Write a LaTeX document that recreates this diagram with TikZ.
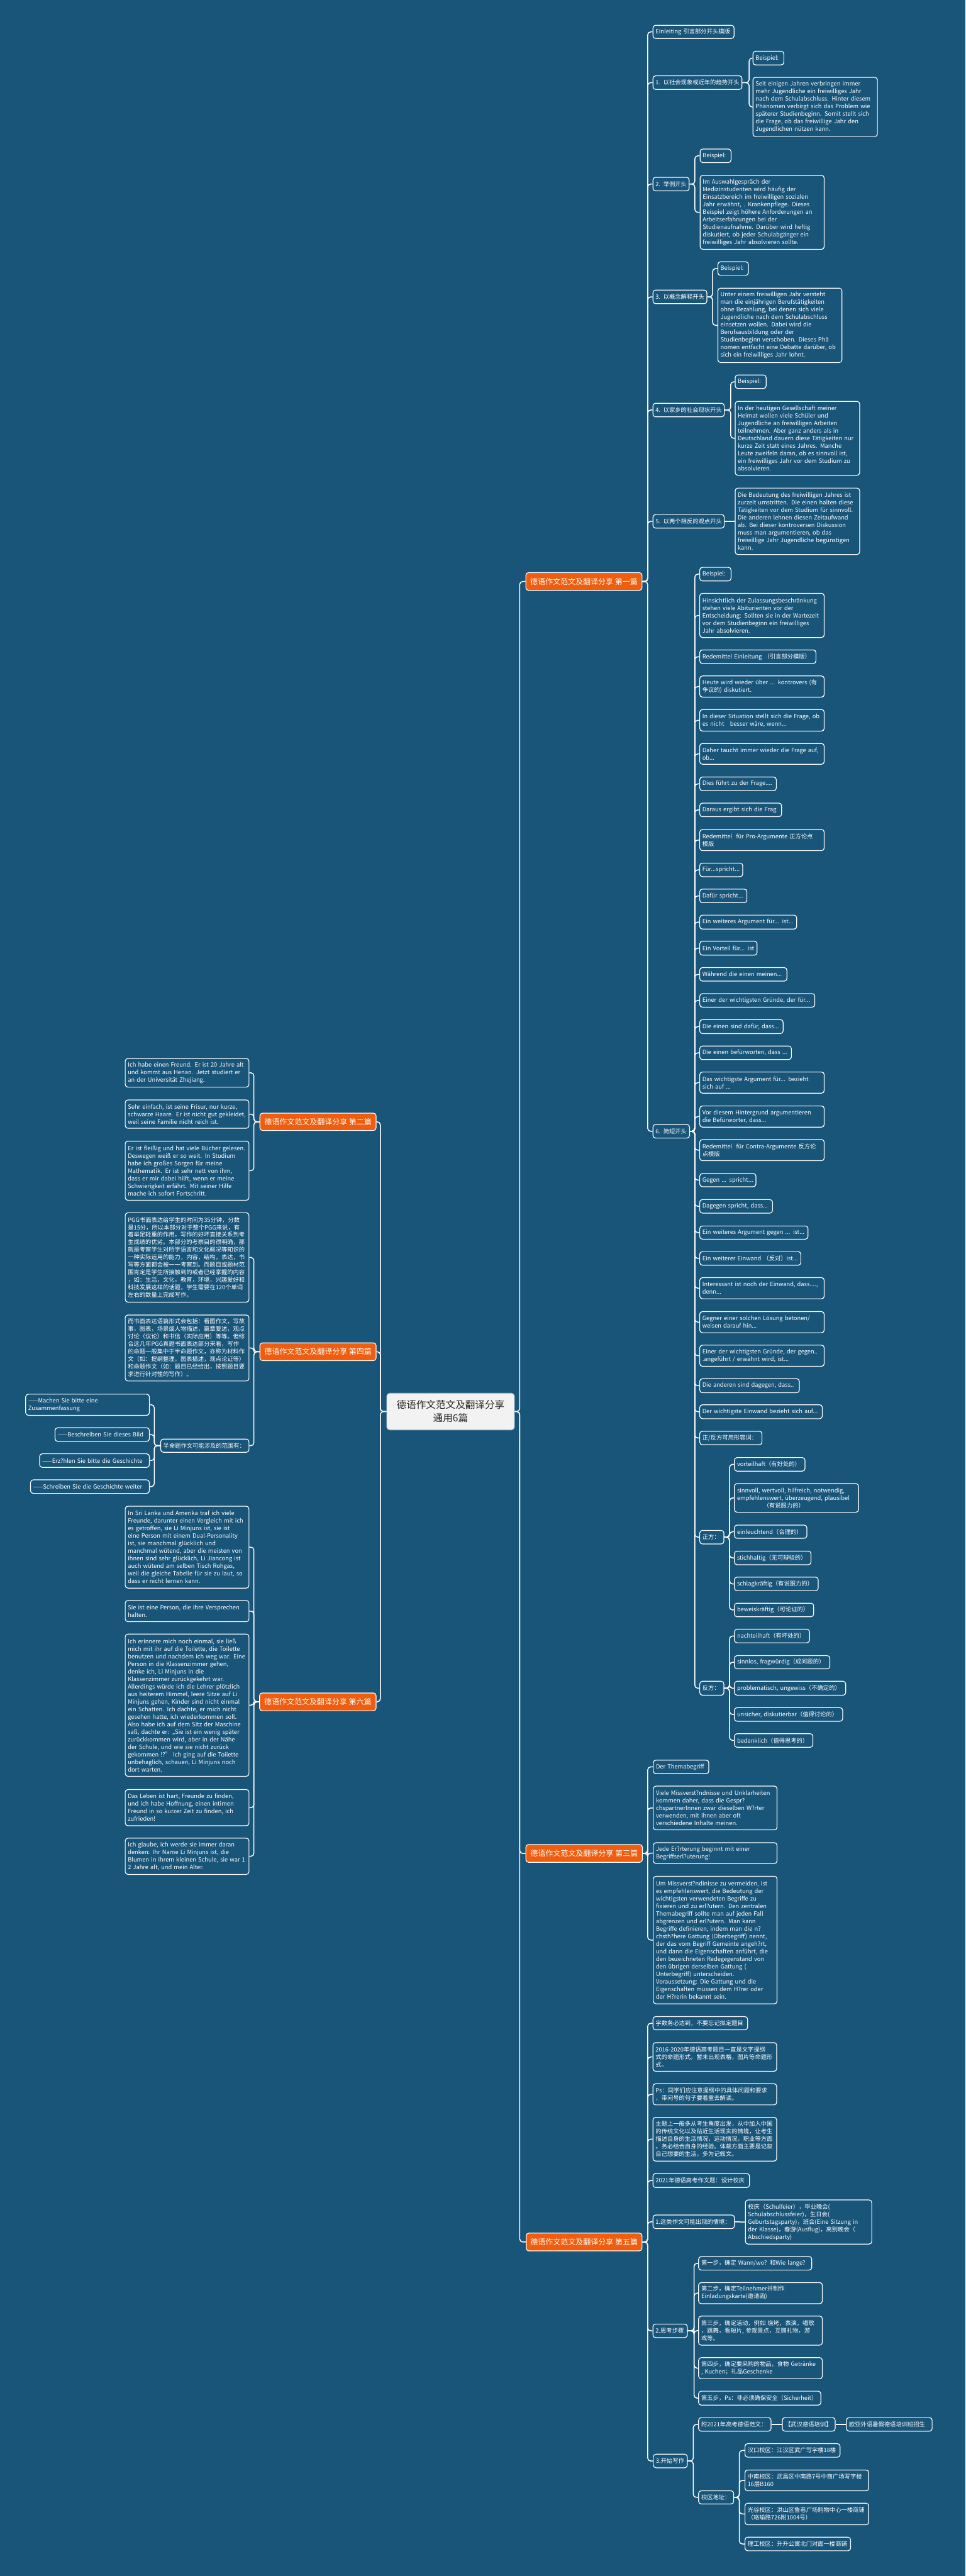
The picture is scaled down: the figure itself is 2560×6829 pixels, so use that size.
\documentclass[tikz,border=0pt]{standalone}
\usepackage{fontspec}
\setmainfont{Noto Sans CJK SC}
\definecolor{bg}{RGB}{25,84,121}
\definecolor{orng}{RGB}{241,93,14}
\tikzset{
  box/.style={draw=white, line width=2pt, rounded corners=7pt, fill=bg, text=white,
    font=\fontsize{15.5}{20}\selectfont, align=left, anchor=west, inner xsep=7pt, inner ysep=2pt,
    execute at begin node={\rightskip=0pt minus 300pt}},
  mainbox/.style={draw=white, line width=2pt, rounded corners=7pt, fill=orng, text=white,
    font=\fontsize{20}{24}\selectfont, anchor=west, inner sep=0pt, align=center},
  rootbox/.style={draw=bg!60!white, line width=1.5pt, rounded corners=8pt, fill=black!5, text=black!85,
    font=\fontsize{26}{35}\selectfont, align=center, inner sep=0pt, minimum width=339, minimum height=98},
  conn/.style={draw=white, line width=2.5pt, rounded corners=8pt},
}
\newcommand\mbx[6]{\node[box, text width={#3-#2-14}, minimum width={#3-#2}, minimum height={#5-#4}] (#1) at (#2,{(#4+#5)/2}) {#6};}
\newcommand\mmain[6]{\node[mainbox, minimum width={#3-#2}, minimum height={#5-#4}] (#1) at (#2,{(#4+#5)/2}) {#6};}
\newcommand\kid[3]{\draw[conn] (#1.east) -- ++(#2,0) |- (#3.west);}
\newcommand\kidL[3]{\draw[conn] (#1.west) -- ++(-#2,0) |- (#3.east);}
\begin{document}
\begin{tikzpicture}[x=1pt,y=-1pt]
\fill[bg] (0,0) rectangle (2560,6829);
\useasboundingbox (0,0) rectangle (2560,6829);

% root
\node[rootbox] (root) at (1194.5,3742) {德语作文范文及翻译分享\\通用6篇};

% main branches
\mmain{b1}{1393}{1701}{1518}{1565}{德语作文范文及翻译分享 第一篇}
\mmain{b3}{1393}{1702}{4890}{4937}{德语作文范文及翻译分享 第三篇}
\mmain{b5}{1394}{1701}{5920}{5967}{德语作文范文及翻译分享 第五篇}
\mmain{b2}{688}{996}{2951}{2997}{德语作文范文及翻译分享 第二篇}
\mmain{b4}{688}{996}{3560}{3607}{德语作文范文及翻译分享 第四篇}
\mmain{b6}{687}{996}{4488}{4535}{德语作文范文及翻译分享 第六篇}

% ---------- branch 1
\mbx{a0}{1730}{1945}{67}{102}{Einleiting 引言部分开头模版}
\mbx{a1}{1730}{1966}{201}{237}{1. 以社会现象或近年的趋势开头}
\mbx{a1a}{1995}{2077}{136}{172}{Beispiel:}
\mbx{a1b}{1995}{2325}{205}{362}{Seit einigen Jahren verbringen immer\\mehr Jugendliche ein freiwilliges Jahr\\nach dem Schulabschluss. Hinter diesem\\Phänomen verbirgt sich das Problem wie\\späterer Studienbeginn. Somit stellt sich\\die Frage, ob das freiwillige Jahr den\\Jugendlichen nützen kann.}
\mbx{a2}{1730}{1826}{470}{506}{2. 举例开头}
\mbx{a2a}{1855}{1937}{395}{431}{Beispiel:}
\mbx{a2b}{1855}{2184}{465}{661}{Im Auswahlgespräch der\\Medizinstudenten wird häufig der\\Einsatzbereich im freiwilligen sozialen\\Jahr erwähnt, . Krankenpflege. Dieses\\Beispiel zeigt höhere Anforderungen an\\Arbeitserfahrungen bei der\\Studienaufnahme. Darüber wird heftig\\diskutiert, ob jeder Schulabgänger ein\\freiwilliges Jahr absolvieren sollte.}
\mbx{a3}{1730}{1873}{769}{805}{3. 以概念解释开头}
\mbx{a3a}{1902}{1983}{694}{730}{Beispiel:}
\mbx{a3b}{1902}{2231}{764}{961}{Unter einem freiwilligen Jahr versteht\\man die einjährigen Berufstätigkeiten\\ohne Bezahlung, bei denen sich viele\\Jugendliche nach dem Schulabschluss\\einsetzen wollen. Dabei wird die\\Berufsausbildung oder der\\Studienbeginn verschoben. Dieses Phä\\nomen entfacht eine Debatte darüber, ob\\ sich ein freiwilliges Jahr lohnt.}
\mbx{a4}{1730}{1919}{1069}{1105}{4. 以家乡的社会现状开头}
\mbx{a4a}{1948}{2030}{994}{1030}{Beispiel:}
\mbx{a4b}{1948}{2278}{1064}{1260}{In der heutigen Gesellschaft meiner\\Heimat wollen viele Schüler und\\Jugendliche an freiwilligen Arbeiten\\teilnehmen. Aber ganz anders als in\\Deutschland dauern diese Tätigkeiten nur\\ kurze Zeit statt eines Jahres. Manche\\Leute zweifeln daran, ob es sinnvoll ist,\\ein freiwilliges Jahr vor dem Studium zu\\absolvieren.}
\mbx{a5}{1730}{1919}{1364}{1400}{5. 以两个相反的观点开头}
\mbx{a5a}{1948}{2278}{1294}{1470}{Die Bedeutung des freiwilligen Jahres ist\\zurzeit umstritten. Die einen halten diese\\Tätigkeiten vor dem Studium für sinnvoll.\\ Die anderen lehnen diesen Zeitaufwand\\ab. Bei dieser kontroversen Diskussion\\muss man argumentieren, ob das\\freiwillige Jahr Jugendliche begünstigen\\kann.}
\mbx{a6}{1730}{1827}{2981}{3017}{6. 简短开头}

\mbx{s1}{1854}{1937}{1504}{1540}{Beispiel:}
\mbx{s2}{1854}{2184}{1573}{1690}{Hinsichtlich der Zulassungsbeschränkung\\ stehen viele Abiturienten vor der\\Entscheidung: Sollten sie in der Wartezeit\\ vor dem Studienbeginn ein freiwilliges\\Jahr absolvieren.}
\mbx{s3}{1854}{2162}{1723}{1759}{Redemittel Einleitung （引言部分模版）}
\mbx{s4}{1854}{2184}{1792}{1848}{Heute wird wieder über ... kontrovers (有\\争议的) diskutiert.}
\mbx{s5}{1854}{2184}{1881}{1938}{In dieser Situation stellt sich die Frage, ob\\ es nicht \ \ besser wäre, wenn...}
\mbx{s6}{1854}{2184}{1971}{2026}{Daher taucht immer wieder die Frage auf,\\ ob...}
\mbx{s7}{1854}{2057}{2060}{2096}{Dies führt zu der Frage....}
\mbx{s8}{1854}{2071}{2129}{2165}{Daraus ergibt sich die Frag}
\mbx{s9}{1854}{2184}{2199}{2255}{Redemittel \ für Pro-Argumente 正方论点\\模版}
\mbx{s10}{1854}{1968}{2288}{2324}{Für...spricht...}
\mbx{s11}{1854}{1979}{2357}{2393}{Dafür spricht...}
\mbx{s12}{1854}{2111}{2426}{2463}{Ein weiteres Argument für... ist...}
\mbx{s13}{1854}{2006}{2495}{2532}{Ein Vorteil für... ist}
\mbx{s14}{1854}{2085}{2565}{2601}{Während die einen meinen...}
\mbx{s15}{1854}{2159}{2634}{2670}{Einer der wichtigsten Gründe, der für...}
\mbx{s16}{1854}{2075}{2703}{2740}{Die einen sind dafür, dass...}
\mbx{s17}{1854}{2097}{2773}{2809}{Die einen befürworten, dass ...}
\mbx{s18}{1854}{2184}{2842}{2898}{Das wichtigste Argument für... bezieht\\sich auf ...}
\mbx{s19}{1854}{2184}{2932}{2988}{Vor diesem Hintergrund argumentieren\\die Befürworter, dass...}
\mbx{s20}{1854}{2184}{3021}{3077}{Redemittel \ für Contra-Argumente 反方论\\点模版}
\mbx{s21}{1854}{2003}{3111}{3146}{Gegen ... spricht...}
\mbx{s22}{1854}{2047}{3180}{3216}{Dagegen spricht, dass...}
\mbx{s23}{1854}{2141}{3250}{3285}{Ein weiteres Argument gegen ... ist...}
\mbx{s24}{1854}{2122}{3318}{3354}{Ein weiterer Einwand （反对）ist...}
\mbx{s25}{1854}{2184}{3387}{3443}{Interessant ist noch der Einwand, dass....,\\denn...}
\mbx{s26}{1854}{2184}{3477}{3533}{Gegner einer solchen Lösung betonen/\\weisen darauf hin...}
\mbx{s27}{1854}{2184}{3566}{3622}{Einer der wichtigsten Gründe, der gegen..\\.angeführt / erwähnt wird, ist...}
\mbx{s28}{1854}{2118}{3655}{3692}{Die anderen sind dagegen, dass..}
\mbx{s29}{1854}{2179}{3724}{3761}{Der wichtigste Einwand bezieht sich auf...}
\mbx{s30}{1854}{2019}{3794}{3830}{正/反方可用形容词：}
\mbx{s31}{1854}{1918}{4057}{4093}{正方：}
\mbx{s32}{1854}{1918}{4457}{4494}{反方：}

\mbx{z1}{1946}{2133}{3864}{3900}{vorteilhaft（有好处的）}
\mbx{z2}{1946}{2275}{3933}{4009}{sinnvoll, wertvoll, hilfreich, notwendig,\\empfehlenswert, überzeugend, plausibel\\\hspace*{4.5em}（有说服力的）}
\mbx{z3}{1946}{2138}{4043}{4078}{einleuchtend（合理的）}
\mbx{z4}{1946}{2149}{4112}{4148}{stichhaltig（无可辩驳的）}
\mbx{z5}{1946}{2168}{4181}{4217}{schlagkräftig（有说服力的）}
\mbx{z6}{1946}{2156}{4250}{4286}{beweiskräftig（可论证的）}
\mbx{f1}{1946}{2145}{4319}{4355}{nachteilhaft（有坏处的）}
\mbx{f2}{1946}{2199}{4389}{4424}{sinnlos, fragwürdig（成问题的）}
\mbx{f3}{1946}{2241}{4457}{4494}{problematisch, ungewiss（不确定的）}
\mbx{f4}{1946}{2233}{4527}{4563}{unsicher, diskutierbar（值得讨论的）}
\mbx{f5}{1946}{2154}{4596}{4632}{bedenklich（值得思考的）}

% ---------- branch 3
\mbx{t1}{1731}{1878}{4666}{4702}{Der Themabegriff}
\mbx{t2}{1731}{2059}{4735}{4851}{Viele Missverst?ndnisse und Unklarheiten\\ kommen daher, dass die Gespr?\\chspartnerInnen zwar dieselben W?rter\\verwenden, mit ihnen aber oft\\verschiedene Inhalte meinen.}
\mbx{t3}{1731}{2059}{4885}{4940}{Jede Er?rterung beginnt mit einer\\Begriffserl?uterung!}
\mbx{t4}{1731}{2059}{4974}{5312}{Um Missverst?ndinisse zu vermeiden, ist\\es empfehlenswert, die Bedeutung der\\wichtigsten verwendeten Begriffe zu\\fixieren und zu erl?utern. Den zentralen\\Themabegriff sollte man auf jeden Fall\\abgrenzen und erl?utern. Man kann\\Begriffe definieren, indem man die n?\\chsth?here Gattung (Oberbegriff) nennt,\\der das vom Begriff Gemeinte angeh?rt,\\und dann die Eigenschaften anführt, die\\den bezeichneten Redegegenstand von\\den übrigen derselben Gattung (\\Unterbegriff) unterscheiden.\\Voraussetzung: Die Gattung und die\\Eigenschaften müssen dem H?rer oder\\der H?rerin bekannt sein.}

% ---------- branch 5
\mbx{u1}{1730}{1981}{5346}{5381}{字数务必达到，不要忘记拟定题目}
\mbx{u2}{1730}{2058}{5415}{5491}{2016-2020年德语高考题目一直是文字提纲\\式的命题形式。暂未出现表格，图片等命题形\\式。}
\mbx{u3}{1730}{2058}{5524}{5580}{Ps：同学们应注意提纲中的具体问题和要求\\，带问号的句子要着重去解读。}
\mbx{u4}{1730}{2058}{5613}{5729}{主题上一般多从考生角度出发，从中加入中国\\的传统文化以及贴近生活现实的情境，让考生\\描述自身的生活情况，运动情况，职业等方面\\。务必结合自身的经验。体裁方面主要是记叙\\自己想要的生活，多为记叙文。}
\mbx{u5}{1730}{1986}{5762}{5799}{2021年德语高考作文题：设计校庆}
\mbx{u6}{1730}{1946}{5872}{5908}{1.这类作文可能出现的情境：}
\mbx{u6a}{1975}{2310}{5832}{5949}{校庆（Schulfeier），毕业晚会(\\Schulabschlussfeier)，生日会(\\Geburtstagsparty)，班会(Eine Sitzung in\\der Klasse)，春游(Ausflug)，离别晚会（\\Abschiedsparty)}
\mbx{u7}{1730}{1821}{6161}{6197}{2.思考步骤}
\mbx{v1}{1851}{2151}{5982}{6018}{第一步，确定 Wann/wo? 和Wie lange?}
\mbx{v2}{1851}{2179}{6051}{6107}{第二步，确定Teilnehmer并制作\\Einladungskarte(邀请函)}
\mbx{v3}{1851}{2179}{6140}{6217}{第三步，确定活动，例如 烧烤，表演，唱歌\\，跳舞，看短片, 参观景点，互赠礼物，游\\戏等。}
\mbx{v4}{1851}{2179}{6250}{6306}{第四步，确定要采购的物品，食物 Getränke\\, Kuchen；礼品Geschenke}
\mbx{v5}{1851}{2175}{6339}{6376}{第五步，Ps：非必须确保安全（Sicherheit）}
\mbx{u8}{1731}{1821}{6506}{6542}{3.开始写作}
\mbx{w1}{1851}{2043}{6409}{6445}{附2021年高考德语范文：}
\mbx{w1a}{2073}{2213}{6409}{6445}{【武汉德语培训】}
\mbx{w1b}{2243}{2470}{6409}{6445}{欧亚外语暑假德语培训班招生}
\mbx{w2}{1851}{1944}{6603}{6638}{校区地址：}
\mbx{x1}{1974}{2226}{6478}{6514}{汉口校区：江汉区武广写字楼18楼}
\mbx{x2}{1974}{2302}{6548}{6603}{中南校区：武昌区中南路7号中商广场写字楼\\16层B160}
\mbx{x3}{1974}{2302}{6636}{6693}{光谷校区：洪山区鲁巷广场购物中心一楼商铺\\（珞喻路726附1004号）}
\mbx{x4}{1974}{2254}{6726}{6762}{理工校区：升升公寓北门对面一楼商铺}

% ---------- branch 2 (left)
\mbx{l1}{331}{659}{2806}{2882}{Ich habe einen Freund. Er ist 20 Jahre alt\\und kommt aus Henan. Jetzt studiert er\\an der Universität Zhejiang.}
\mbx{l2}{331}{659}{2916}{2991}{Sehr einfach, ist seine Frisur, nur kurze,\\schwarze Haare. Er ist nicht gut gekleidet,\\ weil seine Familie nicht reich ist.}
\mbx{l3}{331}{659}{3025}{3182}{Er ist fleißig und hat viele Bücher gelesen.\\ Deswegen weiß er so weit. In Studium\\habe ich großes Sorgen für meine\\Mathematik. Er ist sehr nett von ihm,\\dass er mir dabei hilft, wenn er meine\\Schwierigkeit erfährt. Mit seiner Hilfe\\mache ich sofort Fortschritt.}

% ---------- branch 4 (left)
\mbx{m1}{331}{659}{3215}{3452}{PGG书面表达给学生的时间为35分钟，分数\\是15分，所以本部分对于整个PGG来说，有\\着举足轻重的作用，写作的好坏直接关系到考\\生成绩的优劣。本部分的考察目的很明确，那\\就是考察学生对所学语言和文化概况等知识的\\一种实际运用的能力，内容，结构，表达，书\\写等方面都会被一一考察到。而题目或题材范\\围肯定是学生所接触到的或者已经掌握的内容\\，如：生活，文化，教育，环境，兴趣爱好和\\科技发展这样的话题，学生需要在120个单词\\左右的数量上完成写作。}
\mbx{m2}{331}{659}{3486}{3661}{而书面表达语篇形式会包括：看图作文，写故\\事，图表，场景或人物描述，篇章复述，观点\\讨论（议论）和书信（实际应用）等等。但综\\合这几年PGG真题书面表达部分来看，写作\\的命题一般集中于半命题作文，亦称为材料作\\文（如：提纲整理，图表描述，观点论证等）\\和命题作文（如：题目已经给出，按照题目要\\求进行针对性的写作）。}
\mbx{m3}{425}{659}{3815}{3850}{半命题作文可能涉及的范围有：}
\mbx{n1}{67}{395}{3696}{3752}{——Machen Sie bitte eine\\Zusammenfassung}
\mbx{n2}{145}{395}{3785}{3821}{——Beschreiben Sie dieses Bild}
\mbx{n3}{104}{395}{3854}{3890}{——Erz?hlen Sie bitte die Geschichte}
\mbx{n4}{80}{395}{3923}{3959}{——Schreiben Sie die Geschichte weiter}

% ---------- branch 6 (left)
\mbx{p1}{331}{659}{3993}{4210}{In Sri Lanka und Amerika traf ich viele\\Freunde, darunter einen Vergleich mit ich\\ es getroffen, sie Li Minjuns ist, sie ist\\eine Person mit einem Dual-Personality\\ist, sie manchmal glücklich und\\manchmal wütend, aber die meisten von\\ihnen sind sehr glücklich, Li Jiancong ist\\auch wütend am selben Tisch Rohgas,\\weil die gleiche Tabelle für sie zu laut, so\\dass er nicht lernen kann.}
\mbx{p2}{331}{659}{4243}{4299}{Sie ist eine Person, die ihre Versprechen\\halten.}
\mbx{p3}{331}{659}{4332}{4709}{Ich erinnere mich noch einmal, sie ließ\\mich mit ihr auf die Toilette, die Toilette\\benutzen und nachdem ich weg war. Eine\\ Person in die Klassenzimmer gehen,\\denke ich, Li Minjuns in die\\Klassenzimmer zurückgekehrt war.\\Allerdings würde ich die Lehrer plötzlich\\aus heiterem Himmel, leere Sitze auf Li\\Minjuns gehen, Kinder sind nicht einmal\\ein Schatten. Ich dachte, er mich nicht\\gesehen hatte, ich wiederkommen soll.\\Also habe ich auf dem Sitz der Maschine\\saß, dachte er: „Sie ist ein wenig später\\zurückkommen wird, aber in der Nähe\\der Schule, und wie sie nicht zurück\\gekommen !?" Ich ging auf die Toilette\\unbehaglich, schauen, Li Minjuns noch\\dort warten.}
\mbx{p4}{331}{659}{4744}{4840}{Das Leben ist hart, Freunde zu finden,\\und ich habe Hoffnung, einen intimen\\Freund in so kurzer Zeit zu finden, ich\\zufrieden!}
\mbx{p5}{331}{659}{4873}{4969}{Ich glaube, ich werde sie immer daran\\denken: Ihr Name Li Minjuns ist, die\\Blumen in ihrem kleinen Schule, sie war 1\\2 Jahre alt, und mein Alter.}

% ================= connectors
\foreach \c in {b1,b3,b5} {\kid{root}{13}{\c}}
\foreach \c in {b2,b4,b6} {\kidL{root}{16}{\c}}

\foreach \c in {a0,a1,a2,a3,a4,a5,a6} {\kid{b1}{14}{\c}}
\foreach \c in {a1a,a1b} {\kid{a1}{18}{\c}}
\foreach \c in {a2a,a2b} {\kid{a2}{14}{\c}}
\foreach \c in {a3a,a3b} {\kid{a3}{14}{\c}}
\foreach \c in {a4a,a4b} {\kid{a4}{16}{\c}}
\draw[conn] (a5.east) -- (a5a.west);
\foreach \c in {s1,s2,s3,s4,s5,s6,s7,s8,s9,s10,s11,s12,s13,s14,s15,s16,s17,s18,s19,s20,s21,s22,s23,s24,s25,s26,s27,s28,s29,s30,s31,s32} {\kid{a6}{13}{\c}}
\foreach \c in {z1,z2,z3,z4,z5,z6} {\kid{s31}{14}{\c}}
\foreach \c in {f1,f2,f3,f4,f5} {\kid{s32}{14}{\c}}

\foreach \c in {t1,t2,t3,t4} {\kid{b3}{13}{\c}}

\foreach \c in {u1,u2,u3,u4,u5,u6,u7,u8} {\kid{b5}{14}{\c}}
\draw[conn] (u6.east) -- (u6a.west);
\foreach \c in {v1,v2,v3,v4,v5} {\kid{u7}{17}{\c}}
\foreach \c in {w1,w2} {\kid{u8}{15}{\c}}
\draw[conn] (w1.east) -- (w1a.west);
\draw[conn] (w1a.east) -- (w1b.west);
\foreach \c in {x1,x2,x3,x4} {\kid{w2}{14}{\c}}

\foreach \c in {l1,l2,l3} {\kidL{b2}{15}{\c}}
\foreach \c in {m1,m2,m3} {\kidL{b4}{15}{\c}}
\foreach \c in {n1,n2,n3,n4} {\kidL{m3}{16}{\c}}
\foreach \c in {p1,p2,p3,p4,p5} {\kidL{b6}{14}{\c}}
\end{tikzpicture}
\end{document}
